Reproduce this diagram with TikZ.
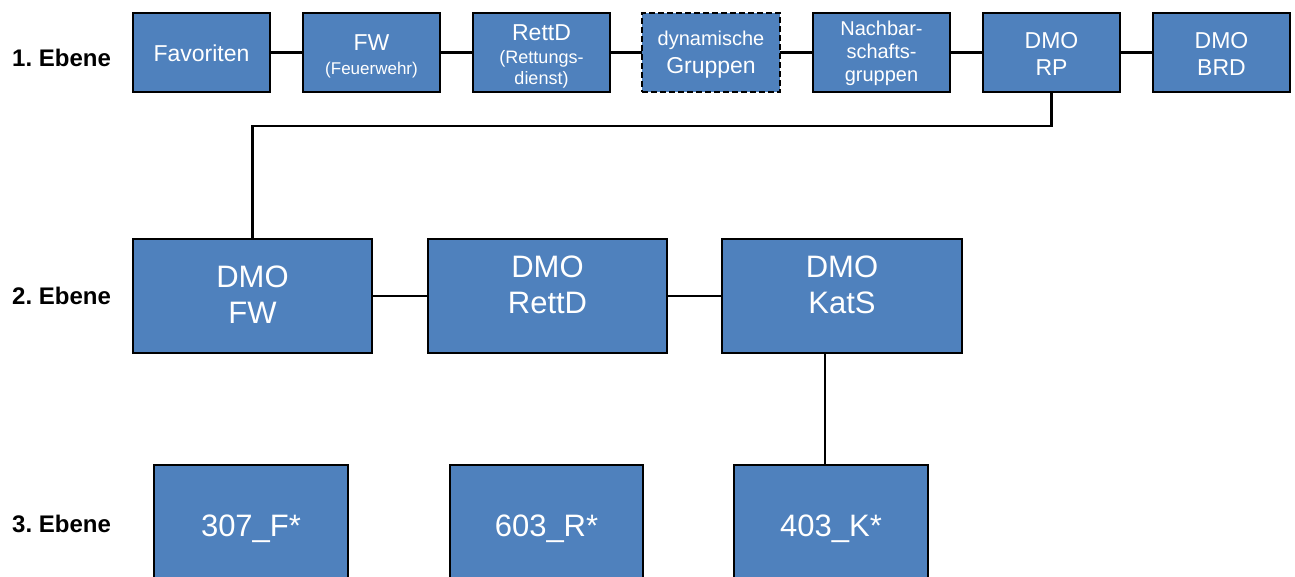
\documentclass[tikz,border=0pt]{standalone}
\usepackage{fontspec}
\setmainfont{Liberation Sans}
\frenchspacing
\definecolor{boxblue}{HTML}{4F81BD}
\tikzset{
  box/.style={draw=black, line width=2pt, fill=boxblue, inner sep=0pt, outer sep=0pt},
  dashbox/.style={box, dashed, dash pattern=on 6pt off 3pt},
  conn/.style={draw=black, line width=2.5pt},
  wt/.style={text=white, anchor=base, inner sep=0pt},
  lbl/.style={text=black, anchor=base west, inner sep=0pt, font=\fontsize{24pt}{24pt}\selectfont\bfseries},
}
\newcommand{\fs}[1]{\fontsize{#1pt}{#1pt}\selectfont}
\begin{document}
\begin{tikzpicture}[x=1pt,y=-1pt]
\clip (0,0) rectangle (1295,576);
\fill[white] (0,0) rectangle (1295,576);
% row 1 boxes
\node[box, minimum width=137pt, minimum height=79pt] (fav) at (201.5,52.5) {};
\node[box, minimum width=137pt, minimum height=79pt] (fw) at (371.5,52.5) {};
\node[box, minimum width=137pt, minimum height=79pt] (rettd) at (541.5,52.5) {};
\node[dashbox, minimum width=138pt, minimum height=79pt] (dyn) at (711,52.5) {};
\node[box, minimum width=137pt, minimum height=79pt] (nach) at (881.5,52.5) {};
\node[box, minimum width=137pt, minimum height=79pt] (rp) at (1051.5,52.5) {};
\node[box, minimum width=137pt, minimum height=79pt] (brd) at (1221.5,52.5) {};
% row 2 boxes
\node[box, minimum width=239pt, minimum height=114pt] (dfw) at (252.5,296) {};
\node[box, minimum width=239pt, minimum height=114pt] (drettd) at (547.5,296) {};
\node[box, minimum width=240pt, minimum height=114pt] (dkats) at (842,296) {};
% row 3 boxes
\node[box, minimum width=194pt, minimum height=130pt] (f307) at (251,530) {};
\node[box, minimum width=193pt, minimum height=130pt] (r603) at (546.5,530) {};
\node[box, minimum width=194pt, minimum height=130pt] (k403) at (831,530) {};
% connectors
\draw[conn] (fav) -- (fw);
\draw[conn] (fw) -- (rettd);
\draw[conn] (rettd) -- (dyn);
\draw[conn] (dyn) -- (nach);
\draw[conn] (nach) -- (rp);
\draw[conn] (rp) -- (brd);
\coordinate (bend) at (0,126);
\draw[conn] (rp.south) -- (rp.south |- bend) -| (dfw.north);
\draw[conn] (dfw) -- (drettd);
\draw[conn] (drettd) -- (dkats);
\coordinate (kx) at (825,0);
\draw[conn] (dkats.south -| kx) -- (k403.north -| kx);
% labels
\node[lbl] (l1) at (12,66) {1. Ebene};
\node[lbl] (l2) at (12,304) {2. Ebene};
\node[lbl] (l3) at (12,532) {3. Ebene};
% row 1 texts
\node[wt, font=\fs{23}] at (201.5,61) {Favoriten};
\node[wt, font=\fs{23}] at (371.5,50) {FW};
\node[wt, font=\fs{17}] at (371.5,74) {(Feuerwehr)};
\node[wt, font=\fs{23}] at (541.5,40) {RettD};
\node[wt, font=\fs{18}] at (541.5,63) {(Rettungs-};
\node[wt, font=\fs{18}] at (541.5,84.5) {dienst)};
\node[wt, font=\fs{20}] at (711,45) {dynamische};
\node[wt, font=\fs{23}] at (711,73) {Gruppen};
\node[wt, font=\fs{20}] at (881.5,35) {Nachbar-};
\node[wt, font=\fs{20}] at (881.5,58) {schafts-};
\node[wt, font=\fs{20}] at (881.5,81) {gruppen};
\node[wt, font=\fs{23}] at (1051.5,48) {DMO};
\node[wt, font=\fs{23}] at (1051.5,75) {RP};
\node[wt, font=\fs{23}] at (1221.5,48) {DMO};
\node[wt, font=\fs{23}] at (1221.5,75) {BRD};
% row 2 texts
\node[wt, font=\fs{31}] at (252.5,287) {DMO};
\node[wt, font=\fs{31}] at (252.5,323) {FW};
\node[wt, font=\fs{31}] at (547.5,277) {DMO};
\node[wt, font=\fs{31}] at (547.5,313) {RettD};
\node[wt, font=\fs{31}] at (842,277) {DMO};
\node[wt, font=\fs{31}] at (842,313) {KatS};
% row 3 texts
\node[wt, font=\fs{31}] at (251,536) {307\_F*};
\node[wt, font=\fs{31}] at (546.5,536) {603\_R*};
\node[wt, font=\fs{31}] at (831,536) {403\_K*};
\end{tikzpicture}
\end{document}
